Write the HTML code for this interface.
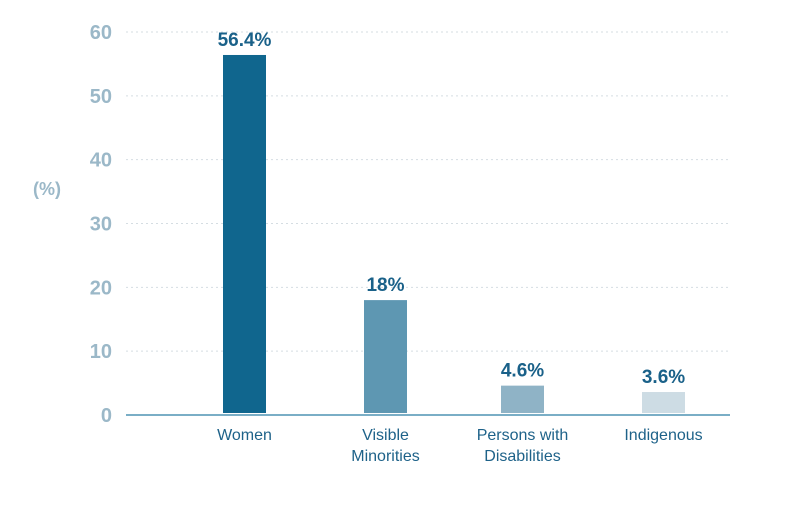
<!DOCTYPE html>
<html><head><meta charset="utf-8"><style>
body{margin:0;background:#fff;}
svg text{font-family:"Liberation Sans",sans-serif;}
</style></head><body>
<svg width="809" height="506" id="c">
<text x="47" y="195" text-anchor="middle" font-size="18" font-weight="bold" fill="#9bb8c8">(%)</text>
</svg>
<script>
const categories=[["Women"],["Visible","Minorities"],["Persons with","Disabilities"],["Indigenous"]];
const values=[56.4,18,4.6,3.6];
const valueLabels=["56.4%","18%","4.6%","3.6%"];
const ticks=[0,10,20,30,40,50,60];
const colors=["#10668e","#5e97b2","#8fb3c6","#cddce4"];
const svg=document.getElementById('c');
const NS="http://www.w3.org/2000/svg";
const y0=415, pxPer=383/60;
const yS=v=>y0-v*pxPer;
const centers=[244.5,385.5,522.5,663.5];
function mk(t,a){const e=document.createElementNS(NS,t);for(const k in a)e.setAttribute(k,a[k]);svg.appendChild(e);return e;}
ticks.forEach(t=>{
 if(t>0){const g=mk('line',{x1:126,x2:730,y1:yS(t),y2:yS(t),stroke:"#d5dde2","stroke-dasharray":"2,3"});
 
 }
 const l=mk('text',{x:112,y:yS(t)+7,"text-anchor":"end","font-size":20,"font-weight":"bold",fill:"#9bb8c8"});
 l.textContent=t;
 
 
});
values.forEach((v,i)=>{
 const b=mk('rect',{x:centers[i]-21.5,y:yS(v),width:43,height:v*pxPer-2,fill:colors[i]});
 
 
 const t=mk('text',{x:centers[i],y:yS(v)-9,"text-anchor":"middle","font-size":19,"font-weight":"bold",fill:"#1a6189"});
 t.textContent=valueLabels[i];
 
 
 categories[i].forEach((s,j)=>{
  const c=mk('text',{x:centers[i],y:440+j*21,"text-anchor":"middle","font-size":16,fill:"#1e6289"});
  c.textContent=s;
  
  
 });
});
const ax=mk('line',{x1:126,x2:730,y1:y0,y2:y0,stroke:"#4f93b3","stroke-width":1.5});


</script>
</body></html>
